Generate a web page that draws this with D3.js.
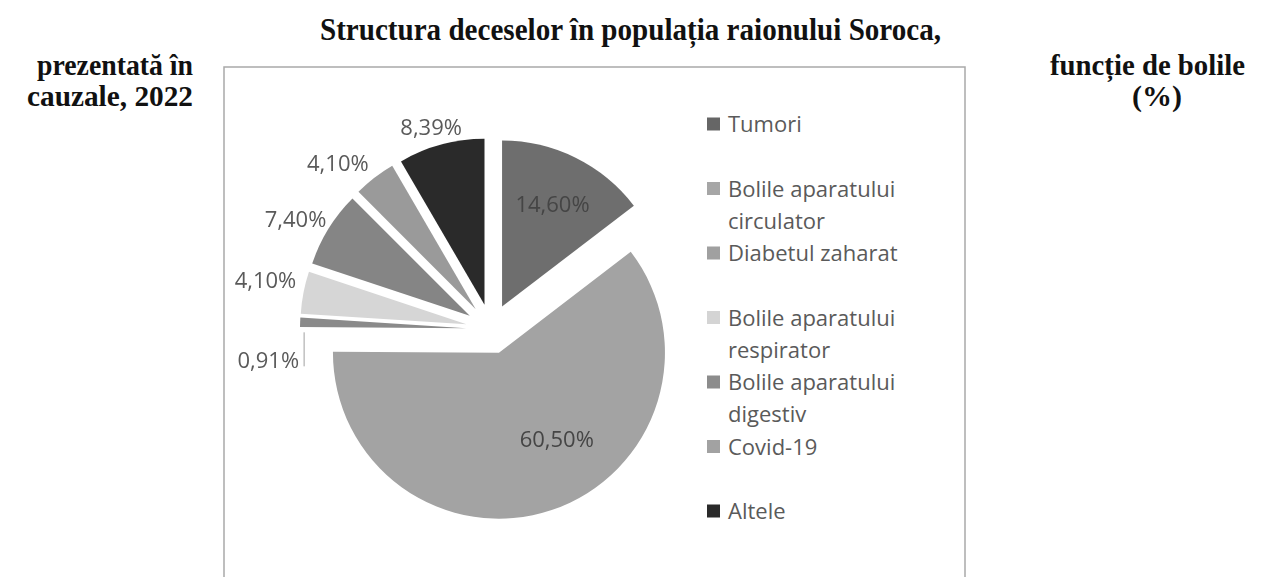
<!DOCTYPE html>
<html>
<head>
<meta charset="utf-8">
<script src="https://cdn.jsdelivr.net/npm/d3@7"></script>
<style>
  body { margin: 0; background: #fff; }
</style>
</head>
<body>
<svg id="chart" width="1269" height="577"></svg>
<script>
// data
const categories = ['Tumori', 'Bolile aparatului circulator', 'Diabetul zaharat',
  'Bolile aparatului respirator', 'Bolile aparatului digestiv', 'Covid-19', 'Altele'];
const legendLines = [['Tumori'], ['Bolile aparatului', 'circulator'], ['Diabetul zaharat'],
  ['Bolile aparatului', 'respirator'], ['Bolile aparatului', 'digestiv'], ['Covid-19'], ['Altele']];
const values = [14.60, 60.50, 0.91, 4.10, 7.40, 4.10, 8.39];
const titleLine = 'Structura deceselor în populația raionului Soroca,';
const leftLines = ['prezentată în', 'cauzale, 2022'];
const rightLines = ['funcție de bolile', '(%)'];

const fills = ['#6e6e6e', '#a3a3a3', '#8a8a8a', '#d6d6d6', '#858585', '#9a9a9a', '#2c2c2c'];
const legendFills = ['#666', '#a6a6a6', '#a0a0a0', '#d4d4d4', '#8c8c8c', '#a2a2a2', '#2a2a2a'];

const ro = d3.formatLocale({ decimal: ',', thousands: '.', grouping: [3], currency: ['', ''] });
const pct = v => ro.format('.2f')(v) + '%';

const svg = d3.select('#chart');

svg.append('defs').append('filter').attr('id', 'soft')
  .append('feGaussianBlur').attr('stdDeviation', 0.6);

// headings (scanned Times bold)
const head = svg.append('g')
  .style('font-family', '"Liberation Serif", "Times New Roman", serif')
  .style('font-weight', 'bold')
  .style('font-size', '30px')
  .attr('fill', '#111');

head.append('text').attr('x', 320).attr('y', 40)
  .style('font-size', '31px')
  .attr('textLength', 621).attr('lengthAdjust', 'spacingAndGlyphs')
  .text(titleLine);

// side pieces of the title
const leftSpan = [[37, 156], [27, 166]];
const rightSpan = [[1050, 195], [1132, 50]];

head.selectAll('.left').data(leftLines).enter().append('text')
  .attr('class', 'left')
  .attr('x', (d, i) => leftSpan[i][0]).attr('y', (d, i) => 75 + i * 31)
  .attr('textLength', (d, i) => leftSpan[i][1]).attr('lengthAdjust', 'spacingAndGlyphs')
  .text(d => d);

head.selectAll('.right').data(rightLines).enter().append('text')
  .attr('class', 'right')
  .attr('x', (d, i) => rightSpan[i][0]).attr('y', (d, i) => 75 + i * 31)
  .attr('textLength', (d, i) => rightSpan[i][1]).attr('lengthAdjust', 'spacingAndGlyphs')
  .text(d => d);

// chart frame
svg.append('rect')
  .attr('x', 224).attr('y', 67)
  .attr('width', 741).attr('height', 560)
  .attr('fill', 'none')
  .attr('stroke', '#a9a9a9')
  .attr('stroke-width', 1.5);

// pie, every point exploded
const cx = 491, cy = 329, R = 166, D = 25;
const arcs = d3.pie().sort(null).value(d => d)(values);
const arc = d3.arc().innerRadius(0).outerRadius(R);
const mid = d => (d.startAngle + d.endAngle) / 2;
const off = (a, r) => [Math.sin(a) * r, -Math.cos(a) * r];

const g = svg.append('g').attr('transform', `translate(${cx},${cy})`);

g.append('g').attr('filter', 'url(#soft)')
  .selectAll('path.slice').data(arcs).enter().append('path')
  .attr('class', 'slice')
  .attr('transform', d => `translate(${off(mid(d), D)})`)
  .attr('d', arc)
  .attr('fill', (d, i) => fills[i]);

// data labels
const labels = g.append('g')
  .style('font-family', '"Open Sans", "Noto Sans", sans-serif')
  .style('font-size', '22px');

arcs.forEach((d, i) => {
  const a = mid(d);
  const base = off(a, D);
  if (d.value > 10) {
    // inside, Excel "best fit"
    const la = d.value > 50 ? d.startAngle + (d.endAngle - d.startAngle) * 0.43 : a;
    const p = off(la, d.value > 50 ? 104 : 114);
    labels.append('text')
      .attr('x', base[0] + p[0]).attr('y', base[1] + p[1] + 8)
      .attr('text-anchor', 'middle')
      .attr('fill', '#454545')
      .text(pct(d.value));
    return;
  }
  const t = labels.append('text')
    .attr('text-anchor', 'middle')
    .attr('fill', '#5a5a5a')
    .text(pct(d.value));
  const w = t.node().getComputedTextLength();
  const p = off(a, D + R + 8);
  // neighbouring small labels get nudged apart a little, the way Excel does
  let x = p[0] + Math.sin(a) * w / 2 - (i === 5 ? 13 : 0);
  let y = p[1] - Math.cos(a) * 10 - (i === 3 ? 9 : 0);
  if (d.value < 1) {
    // tiny slice: label pushed down, with a leader line
    const edge = off(a, D + R);
    x = edge[0] - w / 2 - 1;
    y = edge[1] + 38;
    labels.append('line')
      .attr('x1', edge[0] + 4).attr('x2', edge[0] + 4)
      .attr('y1', edge[1] + 10).attr('y2', y + 6)
      .attr('stroke', '#a0a0a0').attr('stroke-width', 1);
  }
  t.attr('x', x).attr('y', y + 8);
});

// legend
const legend = svg.append('g')
  .style('font-family', '"Open Sans", "Noto Sans", sans-serif')
  .style('font-size', '22px');

const item = legend.selectAll('.item').data(categories).enter().append('g')
  .attr('class', 'item')
  .attr('transform', (d, i) => `translate(707,${124 + i * 64.5})`);

item.append('rect')
  .attr('x', 0).attr('y', -6.5)
  .attr('width', 13).attr('height', 13)
  .attr('fill', (d, i) => legendFills[i]);

item.each(function (d, i) {
  d3.select(this).selectAll('text').data(legendLines[i]).enter().append('text')
    .attr('x', 21).attr('y', (l, j) => 8 + j * 32)
    .attr('fill', '#5a5a5a')
    .text(l => l);
});
</script>
</body>
</html>
